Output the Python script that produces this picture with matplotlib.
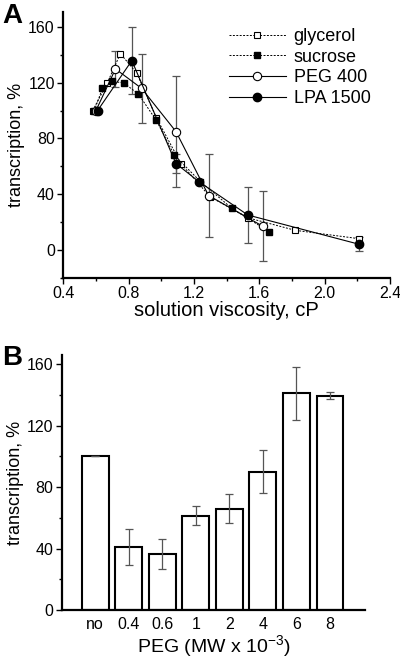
import numpy as np
import matplotlib
matplotlib.use('Agg')
import matplotlib.pyplot as plt
from matplotlib.ticker import MultipleLocator

plt.rcParams['font.family'] = ['Liberation Sans', 'DejaVu Sans']

# panel A - transcription vs viscosity
gly_x = [0.58, 0.67, 0.75, 0.85, 0.97, 1.12, 1.30, 1.53, 1.82, 2.21]
gly_y = [100, 120, 141, 127, 95, 62, 38, 23, 14, 8]

suc_x = [0.59, 0.64, 0.70, 0.77, 0.86, 0.97, 1.08, 1.24, 1.43, 1.66]
suc_y = [100, 116, 121, 120, 112, 93, 68, 49, 30, 13]

peg_x = [0.60, 0.72, 0.88, 1.09, 1.29, 1.62]
peg_y = [100, 130, 116, 85, 39, 17]
peg_err = [0, 13, 25, 40, 30, 25]

lpa_x = [0.61, 0.82, 1.09, 1.23, 1.53, 2.21]
lpa_y = [100, 136, 62, 49, 25, 4]
lpa_err = [0, 24, 7, 0, 20, 5]

# panel B - PEG molecular weight
peg_mw = ['no', '0.4', '0.6', '1', '2', '4', '6', '8']
bar_y = [100, 41, 36.5, 61.5, 66, 90, 141, 139.5]
bar_err = [0, 11.5, 10, 6, 9.5, 14, 17, 2.3]

fig = plt.figure(figsize=(4, 6.61), dpi=100)
axA = fig.add_axes([0.158, 0.580, 0.817, 0.402])
axB = fig.add_axes([0.154, 0.077, 0.759, 0.386])

ebc = '#555555'
axA.errorbar(peg_x, peg_y, yerr=peg_err, fmt='none', ecolor=ebc, elinewidth=0.9, capsize=3, capthick=0.9)
axA.errorbar(lpa_x, lpa_y, yerr=lpa_err, fmt='none', ecolor=ebc, elinewidth=0.9, capsize=3, capthick=0.9)

axA.plot(gly_x, gly_y, ls='--', dashes=(2, 1.5), color='black', lw=0.7, marker='s', ms=5,
         mfc='white', mec='black', mew=0.8, label='glycerol')
axA.plot(suc_x, suc_y, ls='--', dashes=(2, 1.5), color='black', lw=0.7, marker='s', ms=5,
         mfc='black', mec='black', label='sucrose')
axA.plot(peg_x, peg_y, ls='-', color='black', lw=0.8, marker='o', ms=6,
         mfc='white', mec='black', mew=0.8, label='PEG 400')
axA.plot(lpa_x, lpa_y, ls='-', color='black', lw=0.8, marker='o', ms=6,
         mfc='black', mec='black', label='LPA 1500')

axA.set_xlim(0.4, 2.4)
axA.set_ylim(-20, 171)
axA.xaxis.set_major_locator(MultipleLocator(0.4))
axA.xaxis.set_minor_locator(MultipleLocator(0.2))
axA.yaxis.set_major_locator(MultipleLocator(40))
axA.yaxis.set_minor_locator(MultipleLocator(20))
axA.xaxis.set_major_formatter(plt.FuncFormatter(lambda v, p: f'{v:.1f}'))
axA.set_xlabel('solution viscosity, cP', fontsize=14.5, labelpad=0)
axA.set_ylabel('transcription, %', fontsize=13, labelpad=2)
axA.legend(loc='upper right', frameon=False, fontsize=13, handlelength=3.2,
           handletextpad=0.4, labelspacing=0.2, bbox_to_anchor=(0.99, 1.0))

axB.bar(range(len(peg_mw)), bar_y, width=0.8, color='white', edgecolor='black', linewidth=1.5)
axB.errorbar(range(len(peg_mw)), bar_y, yerr=bar_err, fmt='none', ecolor=ebc,
             elinewidth=0.9, capsize=3, capthick=0.9)
axB.set_xlim(-1.0, 8.05)
axB.set_ylim(0, 166)
axB.set_xticks(range(len(peg_mw)))
axB.set_xticklabels(peg_mw)
axB.yaxis.set_major_locator(MultipleLocator(40))
axB.yaxis.set_minor_locator(MultipleLocator(20))
axB.set_xlabel('PEG (MW x 10$^{\\mathregular{-3}}$)', fontsize=14, labelpad=1)
axB.set_ylabel('transcription, %', fontsize=13, labelpad=2)

for ax in (axA, axB):
    for s in ('top', 'right'):
        ax.spines[s].set_visible(False)
    for s in ('left', 'bottom'):
        ax.spines[s].set_linewidth(1.6)
    ax.tick_params(which='major', length=4, width=1.0, labelsize=11.5, pad=2)
    ax.tick_params(which='minor', length=2.5, width=1.0)
axB.tick_params(axis='x', which='both', length=0, pad=5)

fig.text(0.005, 0.995, 'A', fontsize=20, fontweight='bold', va='top', ha='left')
fig.text(0.005, 0.478, 'B', fontsize=20, fontweight='bold', va='top', ha='left')

fig.savefig('out.png', dpi=100)
